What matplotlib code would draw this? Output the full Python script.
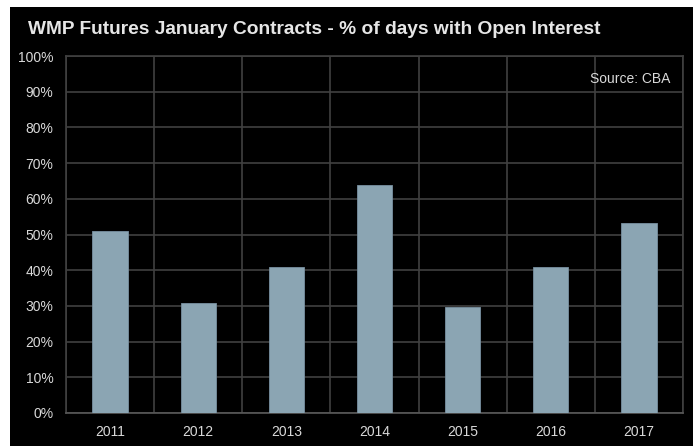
import matplotlib

matplotlib.use("Agg")
import matplotlib.pyplot as plt
from matplotlib.patches import Rectangle
from matplotlib.ticker import FixedLocator, PercentFormatter

# values
years = ["2011", "2012", "2013", "2014", "2015", "2016", "2017"]
pct_open_interest = [51.0, 30.8, 40.9, 64.0, 29.6, 40.9, 53.2]
y_ticks = [0, 10, 20, 30, 40, 50, 60, 70, 80, 90, 100]

TITLE = "WMP Futures January Contracts - % of days with Open Interest"
SOURCE = "Source: CBA"

BAR_COLOR = "#8ba5b3"
GRID_COLOR = "#404040"
TEXT_COLOR = "#d9d9d9"

plt.rcParams["font.family"] = ["Liberation Sans", "DejaVu Sans"]

fig = plt.figure(figsize=(6.93, 4.46), dpi=100, facecolor="white")
# black panel, offset a little from the top-left corner like the original
fig.patches.append(
    Rectangle((10 / 693, 0), 1, 1 - 7 / 446, transform=fig.transFigure,
              facecolor="black", edgecolor="none", zorder=-10)
)

ax = fig.add_axes([66 / 693, 1 - 413 / 446, 617 / 693, 357 / 446])
ax.set_zorder(1)
ax.set_facecolor("black")

x = list(range(len(years)))
ax.bar(x, pct_open_interest, width=0.4, color=BAR_COLOR,
       edgecolor="#7890a0", linewidth=0.6, zorder=3)

ax.set_xlim(-0.5, len(years) - 0.5)
ax.set_ylim(0, 100)
ax.set_xticks(x)
ax.set_xticklabels(years)
ax.xaxis.set_minor_locator(FixedLocator([i - 0.5 for i in range(len(years) + 1)]))
ax.set_yticks(y_ticks)
ax.yaxis.set_major_formatter(PercentFormatter(decimals=0))

ax.grid(True, which="major", axis="y", color=GRID_COLOR, linewidth=1.2, zorder=0)
ax.grid(True, which="minor", axis="x", color=GRID_COLOR, linewidth=1.2, zorder=0)
ax.set_axisbelow(True)

ax.tick_params(axis="both", which="both", length=0, colors=TEXT_COLOR, labelsize=10)
ax.tick_params(axis="x", pad=9)
ax.tick_params(axis="y", pad=9)
for side in ["top", "right", "left"]:
    ax.spines[side].set_color(GRID_COLOR)
    ax.spines[side].set_linewidth(1.2)
ax.spines["bottom"].set_color("#595959")
ax.spines["bottom"].set_linewidth(1.2)

ax.text(0.979, 0.935, SOURCE, transform=ax.transAxes, ha="right", va="center",
        color=TEXT_COLOR, fontsize=10, zorder=5)

fig.text(28 / 693, 1 - 34 / 446, TITLE, ha="left", va="baseline",
         color="#e6e6e6", fontsize=13.8, fontweight="bold")

fig.savefig("out.png", dpi=100, facecolor=fig.get_facecolor())
